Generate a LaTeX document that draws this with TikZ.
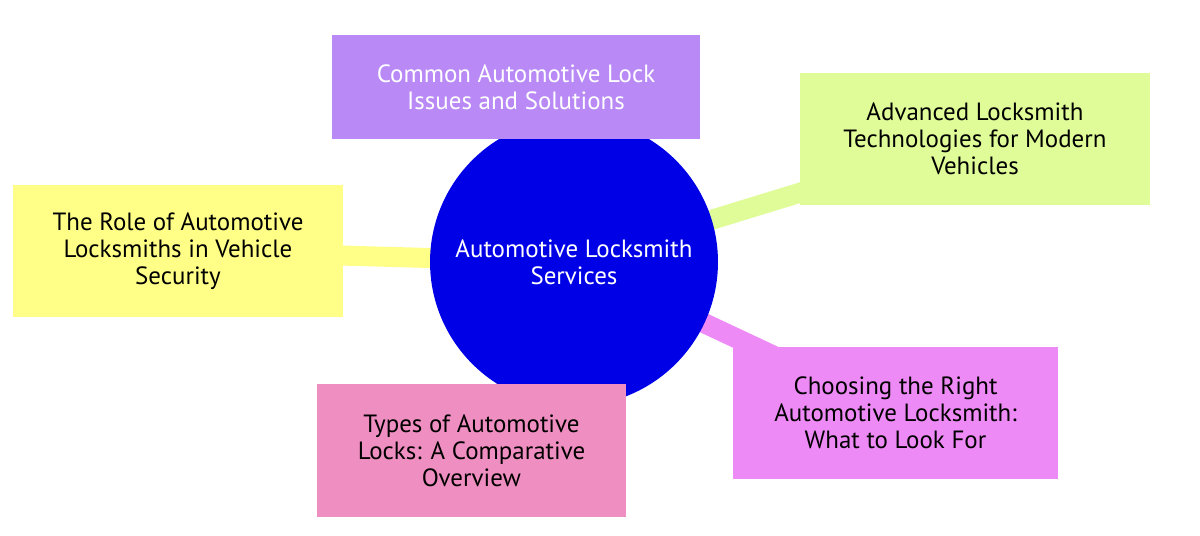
\documentclass[tikz,border=0pt]{standalone}
\usepackage{fontspec}
\setmainfont{PT Sans}
\definecolor{rootblue}{RGB}{0,0,230}
\definecolor{issuesc}{RGB}{185,138,246}
\definecolor{techc}{RGB}{223,252,152}
\definecolor{rolec}{RGB}{255,255,136}
\definecolor{choosec}{RGB}{238,138,246}
\definecolor{typesc}{RGB}{239,142,192}
\pgfdeclarelayer{bg}
\pgfsetlayers{bg,main}

\begin{document}
\begin{tikzpicture}[x=0.02cm,y=-0.02cm]
    \tikzstyle{topic}=[rectangle,inner sep=0pt,align=center,font=\fontsize{14.2}{15.4}\selectfont]
    \tikzstyle{branch}=[line width=0.4cm]
    \useasboundingbox (0,0) rectangle (1200,535);
    % Root and its branches
      \node[circle,fill=rootblue,minimum size=5.76cm,inner sep=0pt,text=white,align=center,font=\fontsize{14.2}{15.4}\selectfont] (root) at (574,262) {Automotive Locksmith\\Services};
      \node[topic,fill=issuesc,text=white,minimum width=7.36cm,minimum height=2.08cm] (issues) at (516,87) {Common Automotive Lock\\Issues and Solutions};
      \node[topic,fill=techc,minimum width=7cm,minimum height=2.64cm] (tech) at (975,139) {Advanced Locksmith\\Technologies for Modern\\Vehicles};
      \node[topic,fill=rolec,minimum width=6.6cm,minimum height=2.64cm] (role) at (178,251) {The Role of Automotive\\Locksmiths in Vehicle\\Security};
      \node[topic,fill=choosec,minimum width=6.5cm,minimum height=2.64cm] (choose) at (895.5,413) {Choosing the Right\\Automotive Locksmith:\\What to Look For};
      \node[topic,fill=typesc,minimum width=6.18cm,minimum height=2.66cm] (types) at (471.5,450.5) {Types of Automotive\\Locks: A Comparative\\Overview};
    % Connectors behind the nodes
    \begin{pgfonlayer}{bg}
      \path (root.center) edge [branch,draw=issuesc] (issues.center);
      \path (root.center) edge [branch,draw=techc] (tech.center);
      \path (root.center) edge [branch,draw=rolec] (role.center);
      \path (root.center) edge [branch,draw=choosec] (choose.center);
      \path (root.center) edge [branch,draw=typesc] (types.center);
    \end{pgfonlayer}
\end{tikzpicture}
\end{document}
